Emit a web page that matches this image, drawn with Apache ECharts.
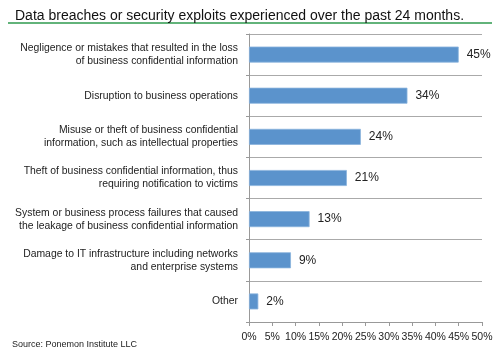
<!DOCTYPE html>
<html>
<head>
<meta charset="utf-8">
<script src="https://cdn.jsdelivr.net/npm/echarts@6/dist/echarts.min.js"></script>
<style>
  html, body { margin: 0; padding: 0; background: #fff; }
  #chart { width: 500px; height: 352px; }
</style>
</head>
<body>
<div id="chart"></div>
<script>
const categories = [
  'Negligence or mistakes that resulted in the loss\nof business confidential information',
  'Disruption to business operations',
  'Misuse or theft of business confidential\ninformation, such as intellectual properties',
  'Theft of business confidential information, thus\nrequiring notification to victims',
  'System or business process failures that caused\nthe leakage of business confidential information',
  'Damage to IT infrastructure including networks\nand enterprise systems',
  'Other'
]
const values = [45, 34, 24, 21, 13, 9, 2]
const xTicks = [0, 5, 10, 15, 20, 25, 30, 35, 40, 45, 50]

const font = '"Liberation Sans", Arial, sans-serif'
const chart = echarts.init(document.getElementById('chart'))
chart.setOption({
  animation: false,
  title: [
    {
      text: 'Data breaches or security exploits experienced over the past 24 months.',
      left: 10,
      top: 4,
      textStyle: { fontFamily: font, fontSize: 14, fontWeight: 'normal', color: '#111' }
    },
    {
      text: 'Source: Ponemon Institute LLC',
      left: 7,
      top: 335,
      textStyle: { fontFamily: font, fontSize: 9, fontWeight: 'normal', color: '#222' }
    }
  ],
  graphic: [
    {
      type: 'line',
      shape: { x1: 8, y1: 23, x2: 492, y2: 23 },
      style: { stroke: '#2e9a4e', lineWidth: 1.5 }
    }
  ],
  grid: { left: 249, right: 18, top: 34, bottom: 30 },
  xAxis: {
    type: 'value',
    min: xTicks[0],
    max: xTicks[xTicks.length - 1],
    interval: 5,
    axisLine: { show: true, lineStyle: { color: '#999' } },
    axisTick: { show: true, length: 4, lineStyle: { color: '#999' } },
    splitLine: { show: false },
    axisLabel: {
      formatter: '{value}%',
      fontFamily: font,
      fontSize: 10.5,
      color: '#222',
      margin: 10
    }
  },
  yAxis: {
    type: 'category',
    data: categories,
    inverse: true,
    axisLine: { show: true, lineStyle: { color: '#999' } },
    axisTick: { show: true, length: 3, lineStyle: { color: '#999' } },
    splitLine: { show: true, lineStyle: { color: '#aaa' } },
    axisLabel: {
      fontFamily: font,
      fontSize: 10.4,
      color: '#222',
      lineHeight: 13,
      margin: 11,
      align: 'right'
    }
  },
  series: [
    {
      type: 'bar',
      data: values,
      barWidth: 16,
      itemStyle: { color: '#5b93cc', borderColor: '#8ab4dd', borderWidth: 0.8 },
      label: {
        show: true,
        position: 'right',
        distance: 8,
        formatter: '{c}%',
        fontFamily: font,
        fontSize: 12,
        color: '#222'
      }
    }
  ]
})
</script>
</body>
</html>
